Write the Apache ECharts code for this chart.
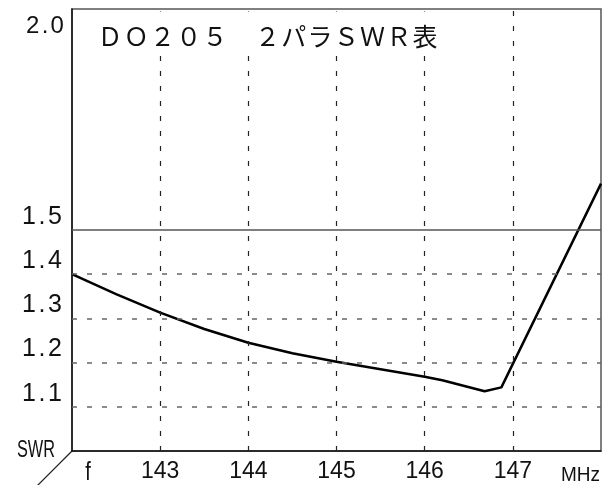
<!DOCTYPE html>
<html>
<head>
<meta charset="utf-8">
<script src="https://cdn.jsdelivr.net/npm/echarts@6/dist/echarts.min.js"></script>
<style>
html, body { margin: 0; padding: 0; background: #fff; }
#chart { width: 604px; height: 485px; }
</style>
</head>
<body>
<div id="chart"></div>
<script>
// SWR curve
var freq = [142.0, 142.5, 143.0, 143.5, 144.0, 144.5, 145.0, 145.5, 146.0, 146.2, 146.68, 146.87, 148.0];
var swr = [1.40, 1.355, 1.313, 1.276, 1.245, 1.221, 1.202, 1.185, 1.168, 1.16, 1.135, 1.144, 1.605];

var xTicks = [143, 144, 145, 146, 147];
var yTicks = [1.1, 1.2, 1.3, 1.4, 1.5];
var yTop = 2.0;
var dashedLevels = [1.1, 1.2, 1.3, 1.4];
var limitLevel = 1.5;
var titleText = 'ＤＯ２０５　２パラＳＷＲ表';

var CJK = '"Noto Sans CJK JP", sans-serif';
var NARROW = '"Liberation Sans Narrow", "Liberation Sans", Arial, sans-serif';

function round1(v) { return Math.round(v * 10) / 10; }

// one rich token per character, so the text gets the wide pitch of the original
function spread(str) {
	var out = '';
	for (var i = 0; i < str.length; i++) {
		var ch = str.charAt(i);
		out += (ch === '.' ? '{p|' : '{d|') + ch + '}';
	}
	return out;
}

function titleTokens(str) {
	var out = '';
	for (var i = 0; i < str.length; i++) out += '{c|' + str.charAt(i) + '}';
	return out;
}

var chart = echarts.init(document.getElementById('chart'));

var guideLines = [];
xTicks.forEach(function (v) {
	guideLines.push({ xAxis: v, lineStyle: { color: '#222', width: 1.2, type: [5, 10] } });
});
dashedLevels.forEach(function (v) {
	guideLines.push({ yAxis: v, lineStyle: { color: '#666', width: 1.5, type: [5, 10] } });
});
guideLines.push({ yAxis: limitLevel, lineStyle: { color: '#555', width: 1.5, type: 'solid' } });

var digitRich = {
	d: { width: 14, align: 'center', fontSize: 25, lineHeight: 26, fontFamily: '"Liberation Sans", Arial, sans-serif', color: '#111' },
	p: { width: 12, align: 'center', fontSize: 25, lineHeight: 26, fontFamily: '"Liberation Sans", Arial, sans-serif', color: '#111' }
};
var topRich = {
	d: { width: 13.5, align: 'center', fontSize: 24, padding: [5, 0, 0, 0], fontFamily: '"Liberation Sans", Arial, sans-serif', color: '#111' },
	p: { width: 11, align: 'center', fontSize: 24, padding: [5, 0, 0, 0], fontFamily: '"Liberation Sans", Arial, sans-serif', color: '#111' }
};

var option = {
	animation: false,
	backgroundColor: '#fff',
	title: {
		text: titleTokens(titleText),
		left: 93,
		top: 11,
		padding: [12, 4, 7, 4],
		backgroundColor: '#fff',
		textStyle: {
			fontWeight: 'normal',
			rich: {
				c: { width: 26.25, align: 'center', fontSize: 25, fontWeight: 'normal', lineHeight: 26, fontFamily: CJK, color: '#111' }
			}
		}
	},
	grid: {
		left: 72,
		right: 3,
		top: 9,
		bottom: 34,
		show: true,
		borderColor: '#555',
		borderWidth: 1.5
	},
	xAxis: {
		type: 'value',
		min: 142,
		max: 148,
		interval: 1,
		axisLine: { show: true, lineStyle: { color: '#111', width: 1.5 } },
		axisTick: { show: false },
		splitLine: { show: false },
		axisLabel: {
			margin: 9,
			fontSize: 23,
			lineHeight: 24,
			fontFamily: NARROW,
			color: '#111',
			formatter: function (v) {
				return xTicks.indexOf(Math.round(v)) >= 0 ? String(Math.round(v)) : '';
			}
		}
	},
	yAxis: [{
		type: 'value',
		min: 1,
		max: 2,
		interval: 0.1,
		position: 'left',
		axisLine: { show: true, lineStyle: { color: '#111', width: 1.5 } },
		axisTick: { show: false },
		splitLine: { show: false },
		axisLabel: {
			margin: 10,
			verticalAlign: 'bottom',
			rich: digitRich,
			formatter: function (v) {
				var r = round1(v);
				return yTicks.indexOf(r) >= 0 ? spread(r.toFixed(1)) : '';
			}
		}
	}, {
		type: 'value',
		min: 1,
		max: 2,
		interval: 0.1,
		position: 'left',
		offset: 0,
		axisLine: { show: false },
		axisTick: { show: false },
		splitLine: { show: false },
		axisLabel: {
			margin: 8,
			verticalAlign: 'top',
			rich: topRich,
			formatter: function (v) {
				return round1(v) === yTop ? spread(yTop.toFixed(1)) : '';
			}
		}
	}],
	graphic: [
		{
			type: 'line',
			shape: { x1: 72, y1: 451, x2: 37, y2: 486 },
			style: { stroke: '#222', lineWidth: 1.2 }
		},
		{
			type: 'text', x: 55, y: 450, scaleX: 0.68,
			style: { text: 'SWR', font: '24px "Liberation Sans", Arial, sans-serif', fill: '#111',
				textAlign: 'right', textVerticalAlign: 'middle', align: 'right', verticalAlign: 'middle' }
		},
		{
			type: 'text', x: 88, y: 473, scaleX: 0.8,
			style: { text: 'f', font: '25px "Liberation Sans", Arial, sans-serif', fill: '#111',
				textAlign: 'center', textVerticalAlign: 'middle', align: 'center', verticalAlign: 'middle' }
		},
		{
			type: 'text', x: 600, y: 475, scaleX: 0.95,
			style: { text: 'MHz', font: '20px "Liberation Sans", Arial, sans-serif', fill: '#111',
				textAlign: 'right', textVerticalAlign: 'middle', align: 'right', verticalAlign: 'middle' }
		}
	],
	series: [{
		type: 'line',
		xAxisIndex: 0,
		yAxisIndex: 0,
		data: freq.map(function (f, i) { return [f, swr[i]]; }),
		showSymbol: false,
		smooth: false,
		lineStyle: { color: '#000', width: 2.5 },
		markLine: {
			silent: true,
			symbol: 'none',
			label: { show: false },
			data: guideLines
		}
	}]
};

chart.setOption(option);
</script>
</body>
</html>
